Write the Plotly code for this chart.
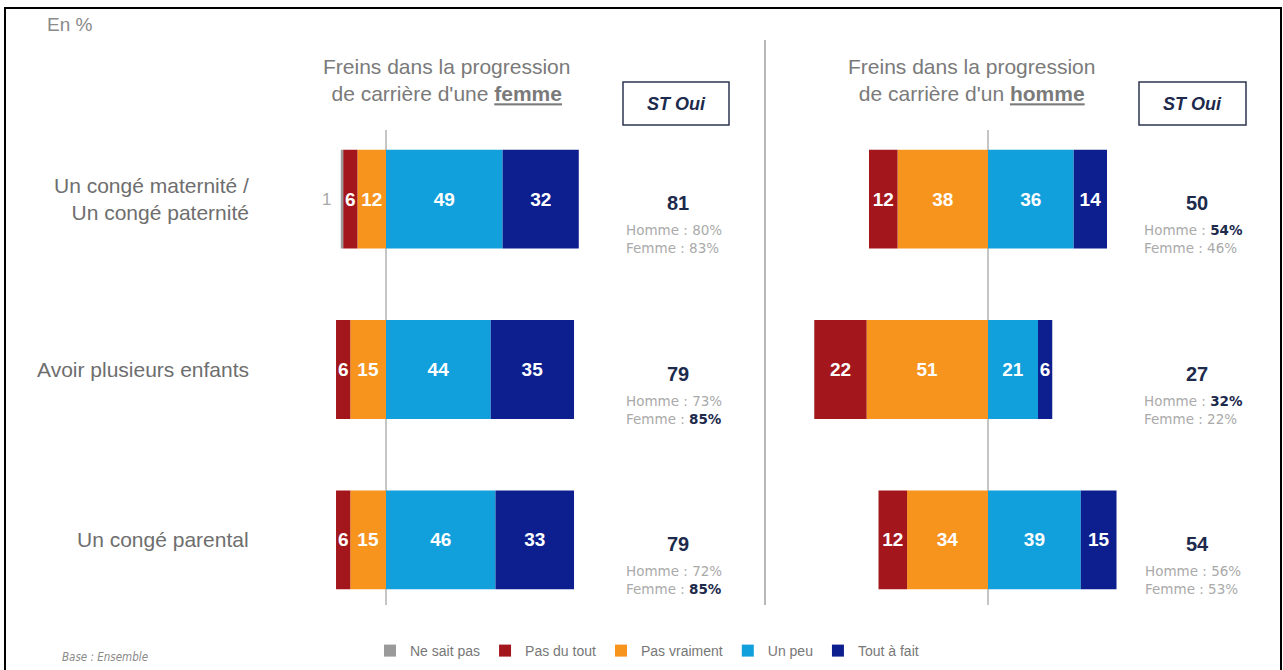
import plotly.graph_objects as go

W, H = 1283, 670

# ---------------- data ----------------
categories = ["Un congé maternité /<br>Un congé paternité", "Avoir plusieurs enfants", "Un congé parental"]
series_names = ["Ne sait pas", "Pas du tout", "Pas vraiment", "Un peu", "Tout à fait"]
series_colors = ["#9a9a9a", "#a3171c", "#f7941e", "#12a0dc", "#0d1f8e"]

femme_ne_sait_pas = [1, 0, 0]
femme_pas_du_tout = [6, 6, 6]
femme_pas_vraiment = [12, 15, 15]
femme_un_peu = [49, 44, 46]
femme_tout_a_fait = [32, 35, 33]

homme_ne_sait_pas = [0, 0, 0]
homme_pas_du_tout = [12, 22, 12]
homme_pas_vraiment = [38, 51, 34]
homme_un_peu = [36, 21, 39]
homme_tout_a_fait = [14, 6, 15]

femme_st_oui = [81, 79, 79]
femme_st_oui_hommes = [80, 73, 72]
femme_st_oui_femmes = [83, 85, 85]
femme_bold_hommes = [False, False, False]
femme_bold_femmes = [False, True, True]

homme_st_oui = [50, 27, 54]
homme_st_oui_hommes = [54, 32, 56]
homme_st_oui_femmes = [46, 22, 53]
homme_bold_hommes = [True, True, False]
homme_bold_femmes = [False, False, False]

panel_titles = ["Freins dans la progression<br>de carrière d'une <b><u>femme</u></b>",
                "Freins dans la progression<br>de carrière d'un <b><u>homme</u></b>"]

# ---------------- layout helpers ----------------
PXU = 2.38               # pixels per percentage point
LEFT_ZERO, RIGHT_ZERO = 386, 988
LEFT_RANGE, RIGHT_RANGE = [-30, 90], [-80, 60]


def dom(zero, rng):
    return [(zero + rng[0] * PXU) / W, (zero + rng[1] * PXU) / W]


def px(x):
    return x / W


def py(y):
    return 1 - y / H


FONT = "Liberation Sans, Arial, sans-serif"
NAVY_TXT = "#1d2a4c"

fig = go.Figure()

panels = [
    ("x", [femme_ne_sait_pas, femme_pas_du_tout, femme_pas_vraiment, femme_un_peu, femme_tout_a_fait], True),
    ("x2", [homme_ne_sait_pas, homme_pas_du_tout, homme_pas_vraiment, homme_un_peu, homme_tout_a_fait], False),
]

# stacking order: negatives outward from zero, then positives outward
order = [2, 1, 0, 3, 4]
for xa, vals, show in panels:
    for i in order:
        v = vals[i]
        neg = i <= 2
        xv = [-a if neg else a for a in v]
        txt = ["" if (a == 0 or i == 0) else str(a) for a in v]
        fig.add_trace(go.Bar(
            y=categories, x=xv, orientation="h", xaxis=xa, yaxis="y",
            name=series_names[i], marker=dict(color=series_colors[i], line=dict(width=0)),
            text=txt, texttemplate="%{text}", textposition="inside",
            insidetextanchor="middle", textangle=0, constraintext="none",
            textfont=dict(family=FONT, size=19, color="white", weight="bold"),
            showlegend=show, legendrank=i, hoverinfo="skip",
        ))

# "Ne sait pas" labels outside the bars
annotations = []
for xa, nsp, pdt, pv in [("x", femme_ne_sait_pas, femme_pas_du_tout, femme_pas_vraiment),
                          ("x2", homme_ne_sait_pas, homme_pas_du_tout, homme_pas_vraiment)]:
    for c, a, b, d in zip(categories, nsp, pdt, pv):
        if a > 0:
            annotations.append(dict(xref=xa, yref="y", x=-(a + b + d), y=c, text=str(a),
                                    showarrow=False, xanchor="right", xshift=-8,
                                    font=dict(family=FONT, size=17, color="#a8a8a8")))

# category labels (right aligned)
for c in categories:
    annotations.append(dict(xref="paper", yref="y", x=px(251), y=c, text=c, showarrow=False,
                            xanchor="right", yanchor="middle", align="right",
                            font=dict(family=FONT, size=21, color="#6e6e6e")))

# panel titles
for t, cx in zip(panel_titles, [446, 971]):
    annotations.append(dict(xref="paper", yref="paper", x=px(cx), y=py(80), text=t, showarrow=False,
                            xanchor="center", yanchor="middle", align="center",
                            font=dict(family=FONT, size=21, color="#7a7a7a")))

# ST Oui headers
shapes = []
for x0, x1 in [(623, 729), (1139, 1246)]:
    shapes.append(dict(type="rect", xref="paper", yref="paper", x0=px(x0), x1=px(x1), y0=py(125), y1=py(82),
                       line=dict(color="#2c3550", width=1.5), fillcolor="white"))
    annotations.append(dict(xref="paper", yref="paper", x=px((x0 + x1) / 2), y=py(103.5),
                            text="<b><i>ST Oui</i></b>", showarrow=False, xanchor="center", yanchor="middle",
                            font=dict(family=FONT, size=18, color=NAVY_TXT)))


def fmt(v, bold):
    if bold:
        return f"<b><span style='color:{NAVY_TXT}'>{v}%</span></b>"
    return f"{v}%"


for cx, tot, hh, ff, bh, bf in [(676, femme_st_oui, femme_st_oui_hommes, femme_st_oui_femmes, femme_bold_hommes, femme_bold_femmes),
                                 (1195, homme_st_oui, homme_st_oui_hommes, homme_st_oui_femmes, homme_bold_hommes, homme_bold_femmes)]:
    for c, t, h, f, b1, b2 in zip(categories, tot, hh, ff, bh, bf):
        annotations.append(dict(xref="paper", yref="y", x=px(cx + 2), y=c, text=f"<b>{t}</b>", showarrow=False,
                                xanchor="center", yanchor="middle", yshift=-4,
                                font=dict(family=FONT, size=20, color=NAVY_TXT)))
        annotations.append(dict(xref="paper", yref="y", x=px(cx - 2), y=c,
                                text=f"Homme : {fmt(h, b1)}<br>Femme : {fmt(f, b2)}",
                                showarrow=False, xanchor="center", yanchor="middle", yshift=-40, align="left",
                                font=dict(family="DejaVu Sans, Verdana, sans-serif", size=13.5, color="#aaaaaa")))

annotations.append(dict(xref="paper", yref="paper", x=px(45), y=py(25), text="En %", showarrow=False,
                        xanchor="left", yanchor="middle", font=dict(family=FONT, size=19, color="#8a8a8a")))
annotations.append(dict(xref="paper", yref="paper", x=px(60), y=py(657), text="<i>Base : Ensemble</i>",
                        showarrow=False, xanchor="left", yanchor="middle",
                        font=dict(family="Liberation Sans Narrow, DejaVu Sans Condensed, sans-serif", size=11.5,
                                  color="#8a8a8a")))

# zero lines, separator and frame
shapes.append(dict(type="line", xref="x", yref="paper", x0=0, x1=0, y0=py(605), y1=py(130),
                   line=dict(color="#8c8c8c", width=1), layer="below"))
shapes.append(dict(type="line", xref="x2", yref="paper", x0=0, x1=0, y0=py(605), y1=py(130),
                   line=dict(color="#8c8c8c", width=1), layer="below"))
shapes.append(dict(type="line", xref="paper", yref="paper", x0=px(765), x1=px(765), y0=py(605), y1=py(40),
                   line=dict(color="#a0a0a0", width=1.5)))
shapes.append(dict(type="rect", xref="paper", yref="paper", x0=px(5), x1=px(1281), y0=py(690), y1=py(8),
                   line=dict(color="black", width=2)))

fig.update_layout(
    width=W, height=H, margin=dict(l=0, r=0, t=0, b=0),
    paper_bgcolor="white", plot_bgcolor="rgba(0,0,0,0)",
    barmode="relative", bargap=0.42,
    xaxis=dict(domain=dom(LEFT_ZERO, LEFT_RANGE), range=LEFT_RANGE, visible=False, fixedrange=True),
    xaxis2=dict(domain=dom(RIGHT_ZERO, RIGHT_RANGE), range=RIGHT_RANGE, visible=False, anchor="y", fixedrange=True),
    yaxis=dict(domain=[py(625), py(114)], categoryorder="array", categoryarray=categories,
               range=[2.5, -0.5], visible=False, fixedrange=True),
    legend=dict(orientation="h", x=px(647), xanchor="center", y=py(651), yanchor="middle",
                font=dict(family=FONT, size=14, color="#777777"), itemwidth=30, traceorder="normal",
                bgcolor="rgba(0,0,0,0)"),
    annotations=annotations, shapes=shapes,
    font=dict(family=FONT),
)

fig.write_html("out.html", config={"displayModeBar": False},
               post_script="document.body.style.margin='0';document.body.style.overflow='hidden';")
